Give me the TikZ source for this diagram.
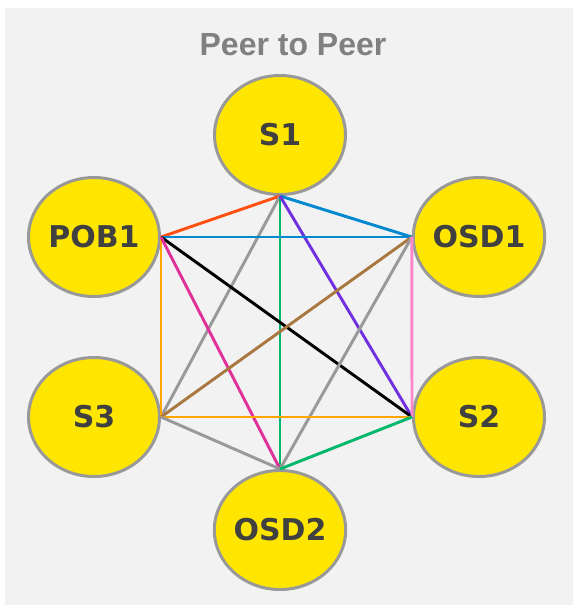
\documentclass[tikz,border=0pt]{standalone}
\usepackage{fontspec}
\newfontfamily\peerfont{DejaVu Sans}
\newfontfamily\titlefont{Liberation Sans}
\usetikzlibrary{shapes.geometric}
\definecolor{fond}{HTML}{F2F2F2}
\definecolor{jaune}{HTML}{FFE600}
\definecolor{bord}{HTML}{999999}
\definecolor{texte}{HTML}{404040}
\definecolor{titre}{HTML}{808080}
\definecolor{rouge}{HTML}{FF5010}
\definecolor{bleu}{HTML}{0088D0}
\definecolor{vert}{HTML}{00B86B}
\definecolor{violet}{HTML}{7030E0}
\definecolor{orange}{HTML}{FFA500}
\definecolor{magenta}{HTML}{E0309A}
\definecolor{brun}{HTML}{A87840}
\definecolor{rose}{HTML}{FF88CC}

\begin{document}
\begin{tikzpicture}[x=0.75pt,y=-0.75pt,
    pair/.style={ellipse,draw=bord,fill=jaune,line width=2.25pt,
        minimum width=98.25pt,minimum height=89.25pt,inner sep=0pt,
        text=texte,font=\peerfont\bfseries\fontsize{22.5}{26}\selectfont},
    lien/.style={line width=2.2pt}]
            \useasboundingbox (0,0) rectangle (573,607);
            \fill[fond] (5,7.5) rectangle (573,605);
            \node[anchor=base,text=titre,font=\titlefont\bfseries\fontsize{24}{28}\selectfont] (titre) at (293,55) {Peer to Peer};
            \node[pair] (S1) at (280,135) {S1};
            \node[pair] (POB1) at (94,237) {POB1};
            \node[pair] (OSD1) at (479,237) {OSD1};
            \node[pair] (S3) at (94,417) {S3};
            \node[pair] (S2) at (479,417) {S2};
            \node[pair] (OSD2) at (280,530) {OSD2};
            \draw[lien,rouge] (S1.south) -- (POB1.east);
            \draw[lien,bleu] (S1.south) -- (OSD1.west);
            \draw[lien,bord] (S1.south) -- (S3.east);
            \draw[lien,vert] (S1.south) -- (OSD2.north);
            \draw[lien,violet] (S1.south) -- (S2.west);
            \draw[lien,bleu] (POB1.east) -- (OSD1.west);
            \draw[lien,black] (POB1.east) -- (S2.west);
            \draw[lien,orange] (POB1.east) -- (S3.east);
            \draw[lien,magenta] (POB1.east) -- (OSD2.north);
            \draw[lien,brun] (OSD1.west) -- (S3.east);
            \draw[lien,bord] (OSD1.west) -- (OSD2.north);
            \draw[lien,rose] (OSD1.west) -- (S2.west);
            \draw[lien,orange] (S3.east) -- (S2.west);
            \draw[lien,bord] (S3.east) -- (OSD2.north);
            \draw[lien,vert] (S2.west) -- (OSD2.north);
        \end{tikzpicture}
\end{document}
